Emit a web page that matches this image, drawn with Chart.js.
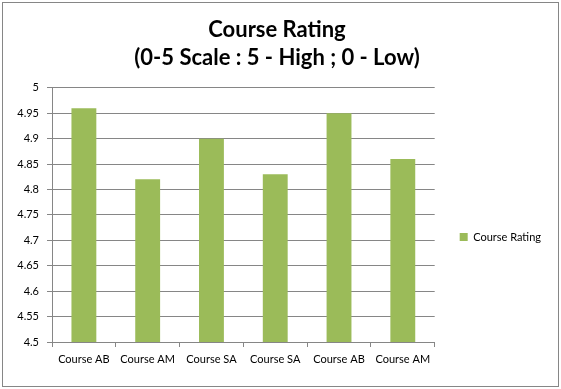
<!DOCTYPE html>
<html>
<head>
<meta charset="utf-8">
<script src="https://cdn.jsdelivr.net/npm/chart.js@4"></script>
<style>
  body { margin: 0; background: #fff; }
  #frame { position: absolute; left: 2px; top: 2px; width: 555px; height: 383px; border: 1px solid #868686; }
</style>
</head>
<body>
<div id="frame"><canvas id="chart" width="555" height="383"></canvas></div>
<script>
const categories = ['Course AB', 'Course AM', 'Course SA', 'Course SA', 'Course AB', 'Course AM'];
const ratings = [4.96, 4.82, 4.9, 4.83, 4.95, 4.86];
const titleLines = ['Course Rating', '(0-5 Scale : 5 - High ; 0 - Low)'];
const seriesName = 'Course Rating';

const gray = '#868686';
const font = 'Lato, "Open Sans", sans-serif';

const ctx = document.getElementById('chart').getContext('2d');
new Chart(ctx, {
  type: 'bar',
  data: {
    labels: categories,
    datasets: [{
      label: seriesName,
      data: ratings,
      backgroundColor: '#9BBB59',
      categoryPercentage: 1,
      barPercentage: 0.39
    }]
  },
  options: {
    responsive: false,
    animation: false,
    layout: { padding: { left: 0, right: 7, top: 0, bottom: 0 } },
    scales: {
      x: {
        grid: { display: true, drawOnChartArea: false, color: gray, tickLength: 5 },
        border: { color: gray },
        ticks: { color: '#000', font: { family: font, size: 11 }, padding: 6, maxRotation: 0 },
        afterFit: scale => { scale.height = 44; }
      },
      y: {
        min: 4.5,
        max: 5,
        grid: { color: gray, tickLength: 5 },
        border: { color: gray },
        ticks: {
          stepSize: 0.05,
          color: '#000',
          padding: 8,
          font: { family: font, size: 11 },
          callback: value => String(+value.toFixed(2))
        },
        afterFit: scale => { scale.width = 49; }
      }
    },
    plugins: {
      title: {
        display: true,
        text: titleLines,
        color: '#000',
        font: { family: font, size: 22, weight: 'bold', lineHeight: 1.27 },
        padding: { top: 13, bottom: 16 }
      },
      legend: {
        position: 'right',
        maxWidth: 124,
        // empty legend title only pushes the entry down to where Excel puts it
        title: { display: true, text: '', font: { size: 11 }, padding: { top: 72, bottom: 0 } },
        labels: {
          boxWidth: 8,
          boxHeight: 8,
          padding: 25,
          color: '#000',
          font: { family: font, size: 11 }
        }
      },
      tooltip: { enabled: false }
    }
  }
});
</script>
</body>
</html>
